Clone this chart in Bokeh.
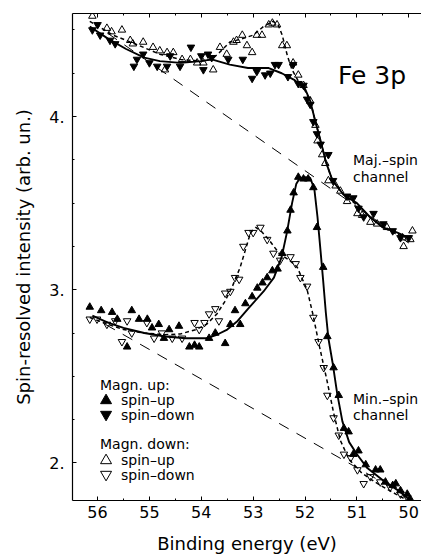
from bokeh.plotting import figure
from bokeh.models import (Range1d, LinearAxis, SingleIntervalTicker, Label,
                          PrintfTickFormatter)
from bokeh.embed import file_html
from bokeh.resources import INLINE

FONT = "DejaVu Sans"

# ---------------- data ----------------
x_ticks = [56, 55, 54, 53, 52, 51, 50]
y_ticks = [2, 3, 4]

# Majority-spin channel, magn. up, spin-down (filled down-triangles)
maj_dn_x = [56.10, 56.00, 55.95, 55.76, 55.66, 55.30, 55.24, 55.12, 55.00, 54.85,
            54.66, 54.60, 54.41, 54.20, 54.00, 53.96, 53.87, 53.80, 53.48, 53.20,
            53.02, 52.93, 52.77, 52.67, 52.58, 52.51, 52.33, 52.23, 52.13, 52.03,
            51.96, 51.90, 51.84, 51.77, 51.70, 51.55, 51.46, 51.19, 51.07, 50.97,
            50.87, 50.68, 50.49, 50.31, 50.16, 50.00]
maj_dn_y = [4.50, 4.53, 4.47, 4.44, 4.42, 4.29, 4.33, 4.36, 4.31, 4.29,
            4.29, 4.35, 4.29, 4.40, 4.35, 4.27, 4.36, 4.34, 4.33, 4.33,
            4.22, 4.26, 4.24, 4.25, 4.30, 4.30, 4.23, 4.30, 4.19, 4.18,
            4.10, 4.07, 3.97, 3.90, 3.84, 3.78, 3.63, 3.54, 3.53, 3.47,
            3.42, 3.44, 3.38, 3.34, 3.30, 3.30]

# Majority-spin channel, magn. down, spin-up (open up-triangles)
maj_up_x = [56.10, 55.82, 55.73, 55.53, 55.37, 55.32, 55.12, 54.93, 54.80, 54.70,
            54.66, 54.54, 54.37, 54.21, 54.08, 53.96, 53.77, 53.64, 53.51, 53.38,
            53.32, 53.21, 53.12, 53.02, 52.93, 52.83, 52.70, 52.63, 52.54, 52.44,
            52.35, 52.23, 52.13, 52.03, 51.90, 51.80, 51.76, 51.67, 51.61, 51.55,
            51.41, 51.32, 51.19, 50.99, 50.90, 50.74, 50.61, 50.42, 50.12, 50.10,
            49.97, 49.93]
maj_up_y = [4.58, 4.51, 4.49, 4.50, 4.44, 4.42, 4.43, 4.40, 4.38, 4.27,
            4.37, 4.37, 4.33, 4.33, 4.31, 4.31, 4.27, 4.40, 4.36, 4.43,
            4.44, 4.47, 4.41, 4.37, 4.47, 4.47, 4.53, 4.54, 4.53, 4.41,
            4.41, 4.31, 4.24, 4.18, 4.09, 3.95, 3.86, 3.78, 3.73, 3.63,
            3.60, 3.57, 3.51, 3.44, 3.43, 3.39, 3.38, 3.36, 3.30, 3.25,
            3.29, 3.34]

# Minority-spin channel, magn. up, spin-up (filled up-triangles)
min_up_x = [56.15, 55.93, 55.72, 55.62, 55.43, 55.34, 55.20, 55.04, 54.95, 54.82,
            54.72, 54.62, 54.43, 54.23, 54.13, 54.04, 53.85, 53.73, 53.54, 53.44,
            53.35, 53.25, 53.15, 53.02, 52.92, 52.82, 52.73, 52.63, 52.53, 52.44,
            52.34, 52.28, 52.22, 52.13, 52.03, 51.94, 51.84, 51.77, 51.65, 51.57,
            51.45, 51.35, 51.25, 51.16, 51.07, 50.97, 50.83, 50.64, 50.55, 50.45,
            50.31, 50.25, 50.16, 50.03, 49.97]
min_up_y = [2.90, 2.88, 2.87, 2.83, 2.67, 2.88, 2.83, 2.83, 2.78, 2.80,
            2.72, 2.77, 2.79, 2.67, 2.68, 2.67, 2.72, 2.75, 2.69, 2.80,
            2.88, 2.80, 2.92, 2.96, 3.01, 3.04, 3.07, 3.11, 3.12, 3.21,
            3.34, 3.46, 3.56, 3.65, 3.64, 3.64, 3.59, 3.36, 3.13, 2.73,
            2.55, 2.39, 2.20, 2.18, 2.05, 2.07, 1.99, 1.96, 1.96, 1.89,
            1.87, 1.88, 1.84, 1.82, 1.79]

# Minority-spin channel, magn. down, spin-down (open down-triangles)
min_dn_x = [56.15, 56.01, 55.82, 55.66, 55.53, 55.43, 55.34, 55.05, 54.91, 54.76,
            54.56, 54.37, 54.13, 54.04, 53.94, 53.85, 53.73, 53.66, 53.54, 53.44,
            53.35, 53.27, 53.19, 53.09, 53.00, 52.86, 52.73, 52.61, 52.48, 52.28,
            52.18, 52.09, 51.96, 51.84, 51.74, 51.64, 51.57, 51.45, 51.35, 51.25,
            51.12, 50.99, 50.87, 50.74, 50.55, 50.36, 50.16, 50.03]
min_dn_y = [2.83, 2.83, 2.80, 2.82, 2.70, 2.82, 2.75, 2.81, 2.72, 2.75,
            2.72, 2.72, 2.81, 2.77, 2.81, 2.86, 2.89, 2.82, 2.98, 2.99,
            3.07, 3.06, 3.25, 3.33, 3.33, 3.36, 3.29, 3.21, 3.17, 3.19,
            3.15, 3.07, 3.02, 2.84, 2.70, 2.55, 2.39, 2.26, 2.16, 2.05,
            2.03, 1.96, 1.88, 1.92, 1.89, 1.86, 1.82, 1.80]

# Fitted curves
fit_maj_dn_x = [56.15, 55.80, 55.45, 55.10, 54.80, 54.40, 54.00, 53.80, 53.45, 53.10,
                52.70, 52.45, 52.20, 52.00, 51.90, 51.80, 51.70, 51.60, 51.47, 51.26,
                51.00, 50.75, 50.50, 50.22, 50.00]
fit_maj_dn_y = [4.52, 4.45, 4.39, 4.34, 4.32, 4.31, 4.32, 4.33, 4.30, 4.28,
                4.28, 4.25, 4.21, 4.16, 4.09, 3.97, 3.86, 3.74, 3.63, 3.55,
                3.50, 3.42, 3.36, 3.33, 3.30]

fit_maj_up_x = [56.15, 55.70, 55.20, 54.80, 54.40, 54.00, 53.80, 53.65, 53.45, 53.20,
                53.00, 52.80, 52.62, 52.52, 52.44, 52.34, 52.25, 52.12, 52.00, 51.90,
                51.80, 51.70, 51.60, 51.47, 51.26, 51.00, 50.75, 50.50, 50.22, 50.00]
fit_maj_up_y = [4.55, 4.47, 4.41, 4.36, 4.33, 4.32, 4.33, 4.37, 4.43, 4.45,
                4.47, 4.52, 4.55, 4.53, 4.47, 4.35, 4.27, 4.20, 4.15, 4.09,
                3.97, 3.86, 3.74, 3.63, 3.55, 3.49, 3.42, 3.36, 3.32, 3.30]

fit_min_up_x = [56.10, 55.80, 55.50, 55.10, 54.70, 54.30, 53.90, 53.70, 53.50, 53.30,
                53.10, 52.80, 52.60, 52.45, 52.35, 52.25, 52.17, 52.10, 52.00, 51.90,
                51.82, 51.76, 51.70, 51.65, 51.60, 51.55, 51.47, 51.38, 51.28, 51.15,
                51.00, 50.80, 50.50, 50.20, 50.00]
fit_min_up_y = [2.85, 2.81, 2.78, 2.75, 2.73, 2.72, 2.72, 2.74, 2.77, 2.82,
                2.89, 2.99, 3.07, 3.19, 3.33, 3.50, 3.61, 3.645, 3.65, 3.645,
                3.58, 3.42, 3.22, 3.05, 2.87, 2.72, 2.58, 2.40, 2.24, 2.12,
                2.05, 1.97, 1.90, 1.84, 1.79]

fit_min_dn_x = [56.15, 55.80, 55.50, 55.10, 54.70, 54.40, 54.10, 53.90, 53.70, 53.55,
                53.40, 53.25, 53.15, 53.05, 52.95, 52.85, 52.70, 52.50, 52.30, 52.15,
                52.05, 51.96, 51.85, 51.72, 51.58, 51.45, 51.32, 51.15, 50.90, 50.60,
                50.25, 50.00]
fit_min_dn_y = [2.84, 2.80, 2.77, 2.75, 2.74, 2.745, 2.77, 2.80, 2.86, 2.93,
                3.02, 3.13, 3.23, 3.33, 3.36, 3.34, 3.29, 3.21, 3.17, 3.13,
                3.06, 3.00, 2.86, 2.67, 2.48, 2.29, 2.13, 2.02, 1.94, 1.88,
                1.82, 1.78]

# Background lines
bg_maj_x = [55.80, 50.00]
bg_maj_y = [4.48, 3.27]
bg_min_x = [55.85, 50.05]
bg_min_y = [2.80, 1.81]

# ---------------- figure ----------------
X0, X1 = 56.483, 49.755
Y0, Y1 = 1.783, 4.595
FL, FR, FT, FB = 72.5, 421.0, 13.0, 500.0   # frame edges in px


def sx_to_x(sx):
    return X0 + (sx - FL) / (FR - FL) * (X1 - X0)


def sy_to_y(sy):
    return Y0 + (FB - sy) / (FB - FT) * (Y1 - Y0)


p = figure(width=421, height=560, output_backend="svg", toolbar_location=None,
           x_range=Range1d(X0, X1), y_range=Range1d(Y0, Y1),
           min_border_left=72, min_border_right=0, min_border_top=13,
           min_border_bottom=60,
           x_axis_label="Binding energy (eV)",
           y_axis_label="Spin-resolved intensity (arb. un.)")
p.grid.visible = False
p.outline_line_color = None
p.background_fill_color = "white"
p.border_fill_color = "white"

for ax in (p.xaxis[0], p.yaxis[0]):
    ax.axis_line_width = 1.2
    ax.major_tick_in = 4
    ax.major_tick_out = 0
    ax.minor_tick_in = 2
    ax.minor_tick_out = 0
    ax.major_label_text_font = FONT
    ax.major_label_text_font_size = "16px"
    ax.major_label_text_color = "black"
    ax.axis_label_text_font = FONT
    ax.axis_label_text_font_size = "18px"
    ax.axis_label_text_font_style = "normal"
    ax.axis_label_text_color = "black"
    ax.axis_label_standoff = 12

p.xaxis[0].ticker = SingleIntervalTicker(interval=1, num_minor_ticks=2)
p.xaxis[0].major_label_standoff = 5
p.yaxis[0].ticker = SingleIntervalTicker(interval=1, num_minor_ticks=4)
p.yaxis[0].formatter = PrintfTickFormatter(format="%d.")
p.yaxis[0].major_label_standoff = 8

# top frame line with inward ticks, labels not drawn
top = LinearAxis(ticker=SingleIntervalTicker(interval=1, num_minor_ticks=2),
                 major_label_text_color=None, major_label_text_font_size="1px",
                 major_label_standoff=0,
                 axis_line_width=1.2, major_tick_in=4, major_tick_out=0,
                 minor_tick_in=2, minor_tick_out=0)
p.add_layout(top, "above")

# background lines
p.line(bg_maj_x, bg_maj_y, line_color="black", line_width=1, line_dash="11 9")
p.line(bg_min_x, bg_min_y, line_color="black", line_width=1, line_dash="11 9")

# fits
p.line(fit_maj_up_x, fit_maj_up_y, line_color="black", line_width=1.5, line_dash="4 3")
p.line(fit_min_dn_x, fit_min_dn_y, line_color="black", line_width=1.5, line_dash="4 3")
p.line(fit_maj_dn_x, fit_maj_dn_y, line_color="black", line_width=1.9)
p.line(fit_min_up_x, fit_min_up_y, line_color="black", line_width=1.9)

# points
MS = 7.5
p.scatter(maj_dn_x, maj_dn_y, marker="inverted_triangle", size=MS,
          fill_color="black", line_color="black", line_width=1)
p.scatter(min_up_x, min_up_y, marker="triangle", size=MS,
          fill_color="black", line_color="black", line_width=1)
p.scatter(maj_up_x, maj_up_y, marker="triangle", size=MS,
          fill_color=None, line_color="black", line_width=1)
p.scatter(min_dn_x, min_dn_y, marker="inverted_triangle", size=MS,
          fill_color=None, line_color="black", line_width=1)


def label(text, sx, sy, size="14px"):
    p.add_layout(Label(x=sx - FL, y=FB - sy, x_units="screen", y_units="screen",
                       text=text, text_font=FONT, text_font_size=size,
                       text_color="black", text_baseline="middle",
                       text_align="left"))


label("Fe 3p", 338, 75, "25px")
label("Maj.\u2013spin", 353, 159)
label("channel", 353, 176)
label("Min.\u2013spin", 353, 398)
label("channel", 353, 414)

# legend
label("Magn. up:", 100, 384)
label("spin\u2013up", 121, 399)
label("spin\u2013down", 121, 414)
label("Magn. down:", 100, 443)
label("spin\u2013up", 121, 459)
label("spin\u2013down", 121, 474)

LS = 11
p.scatter([sx_to_x(106)], [sy_to_y(400)], marker="triangle", size=LS,
          fill_color="black", line_color="black")
p.scatter([sx_to_x(106)], [sy_to_y(414)], marker="inverted_triangle", size=LS,
          fill_color="black", line_color="black")
p.scatter([sx_to_x(106)], [sy_to_y(460)], marker="triangle", size=LS,
          fill_color=None, line_color="black")
p.scatter([sx_to_x(106)], [sy_to_y(474)], marker="inverted_triangle", size=LS,
          fill_color=None, line_color="black")

open("out.html", "w").write(file_html(p, INLINE))
